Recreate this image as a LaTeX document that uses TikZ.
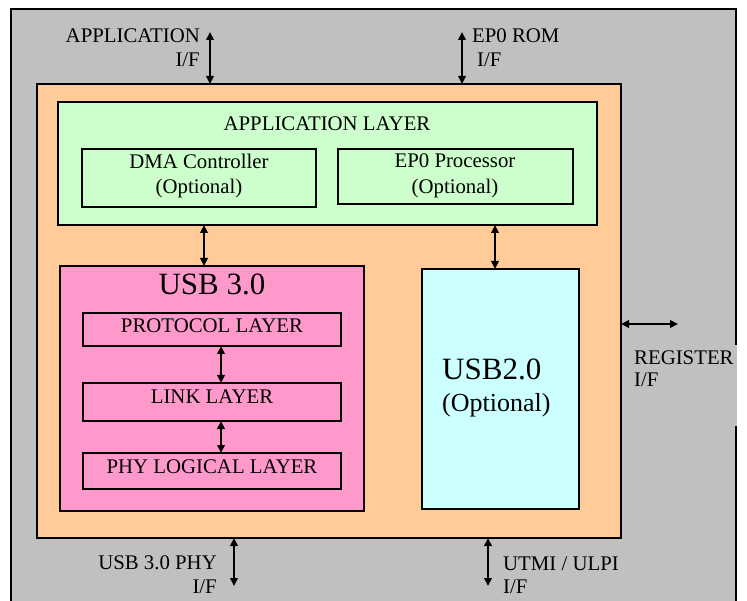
\documentclass[tikz,border=0pt]{standalone}
\usepackage{fontspec}
\setmainfont{Liberation Serif}
\usetikzlibrary{arrows.meta}
\definecolor{bggray}{HTML}{C0C0C0}
\definecolor{coreorange}{HTML}{FFCC99}
\definecolor{appgreen}{HTML}{CCFFCC}
\definecolor{usbpink}{HTML}{FF99CC}
\definecolor{usbcyan}{HTML}{CCFFFF}
\tikzset{
  blk/.style={draw=black, line width=1.8pt, rectangle, inner sep=0pt, outer sep=0pt},
  dbl/.style={line width=2pt, {Triangle[length=8pt,width=7.5pt]}-{Triangle[length=8pt,width=7.5pt]}},
  lbl/.style={inner sep=0pt, font=\fontsize{20.8}{24}\selectfont},
  big/.style={inner sep=0pt, font=\fontsize{31}{36}\selectfont},
  mid/.style={inner sep=0pt, font=\fontsize{26}{30}\selectfont}
}
\begin{document}
\begin{tikzpicture}[x=1pt,y=-1pt]
\useasboundingbox (0,0) rectangle (747,601);
\clip (0,0) rectangle (747,601);
\fill[white] (0,0) rectangle (747,601);
% outer gray area
\draw[fill=bggray, line width=1.8pt] (11,9) rectangle (736,640);
% cover of right border behind register label
\fill[bggray] (628,345) rectangle (737,426);

% core
\node[blk, fill=coreorange, minimum width=584pt, minimum height=454pt] (core) at (329,311) {};
\node[blk, fill=appgreen, minimum width=539pt, minimum height=123pt] (app) at (327.5,163.5) {};
\node[blk, fill=appgreen, minimum width=234pt, minimum height=58pt] (dma) at (199,178) {};
\node[blk, fill=appgreen, minimum width=235pt, minimum height=55pt] (ep0) at (455.5,176.5) {};
\node[blk, fill=usbpink, minimum width=304pt, minimum height=245pt] (usb3) at (212,388.5) {};
\node[blk, fill=usbpink, minimum width=258pt, minimum height=33pt] (proto) at (212,329.5) {};
\node[blk, fill=usbpink, minimum width=258pt, minimum height=38pt] (link) at (212,402) {};
\node[blk, fill=usbpink, minimum width=258pt, minimum height=36pt] (phy) at (212,471) {};
\node[blk, fill=usbcyan, minimum width=157pt, minimum height=240pt] (usb2) at (500.5,389) {};

% texts
\node[lbl, anchor=base] at (327,131) {APPLICATION LAYER};
\node[lbl, anchor=base] at (199,169) {DMA Controller};
\node[lbl, anchor=base] at (199,194) {(Optional)};
\node[lbl, anchor=base] at (455,168) {EP0 Processor};
\node[lbl, anchor=base] at (455,194) {(Optional)};
\node[big, anchor=base] at (212,295) {USB 3.0};
\node[lbl, anchor=base] at (212,333) {PROTOCOL LAYER};
\node[lbl, anchor=base] at (212,403) {LINK LAYER};
\node[lbl, anchor=base] at (212,473) {PHY LOGICAL LAYER};
\node[big, anchor=base west] at (442,380) {USB2.0};
\node[mid, anchor=base west] at (442,412) {(Optional)};

\node[lbl, anchor=base east] at (200,43) {APPLICATION};
\node[lbl, anchor=base east] at (200,67) {I/F};
\node[lbl, anchor=base west] at (472,43) {EP0 ROM};
\node[lbl, anchor=base west] at (477,67) {I/F};
\node[lbl, anchor=base west] at (634,365) {REGISTER};
\node[lbl, anchor=base west] at (634,387) {I/F};
\node[lbl, anchor=base east] at (217,569) {USB 3.0 PHY};
\node[lbl, anchor=base east] at (217,593) {I/F};
\node[lbl, anchor=base west] at (503,570) {UTMI / ULPI};
\node[lbl, anchor=base west] at (503,593) {I/F};

% connector end points
\coordinate (appif) at (210,32);
\coordinate (romif) at (462,32);
\coordinate (regif) at (678,324);
\coordinate (phyif) at (234,586);
\coordinate (utmiif) at (488,586);
\coordinate (xa) at (204,0);
\coordinate (xb) at (495,0);
\coordinate (xc) at (221,0);

% connectors
\draw[dbl] (appif) -- (appif |- core.north);
\draw[dbl] (romif) -- (romif |- core.north);
\draw[dbl] (regif -| core.east) -- (regif);
\draw[dbl] (phyif |- core.south) -- (phyif);
\draw[dbl] (utmiif |- core.south) -- (utmiif);
\draw[dbl] (xa |- app.south) -- (xa |- usb3.north);
\draw[dbl] (xb |- app.south) -- (xb |- usb2.north);
\draw[dbl] (xc |- proto.south) -- (xc |- link.north);
\draw[dbl] (xc |- link.south) -- (xc |- phy.north);
\end{tikzpicture}
\end{document}
